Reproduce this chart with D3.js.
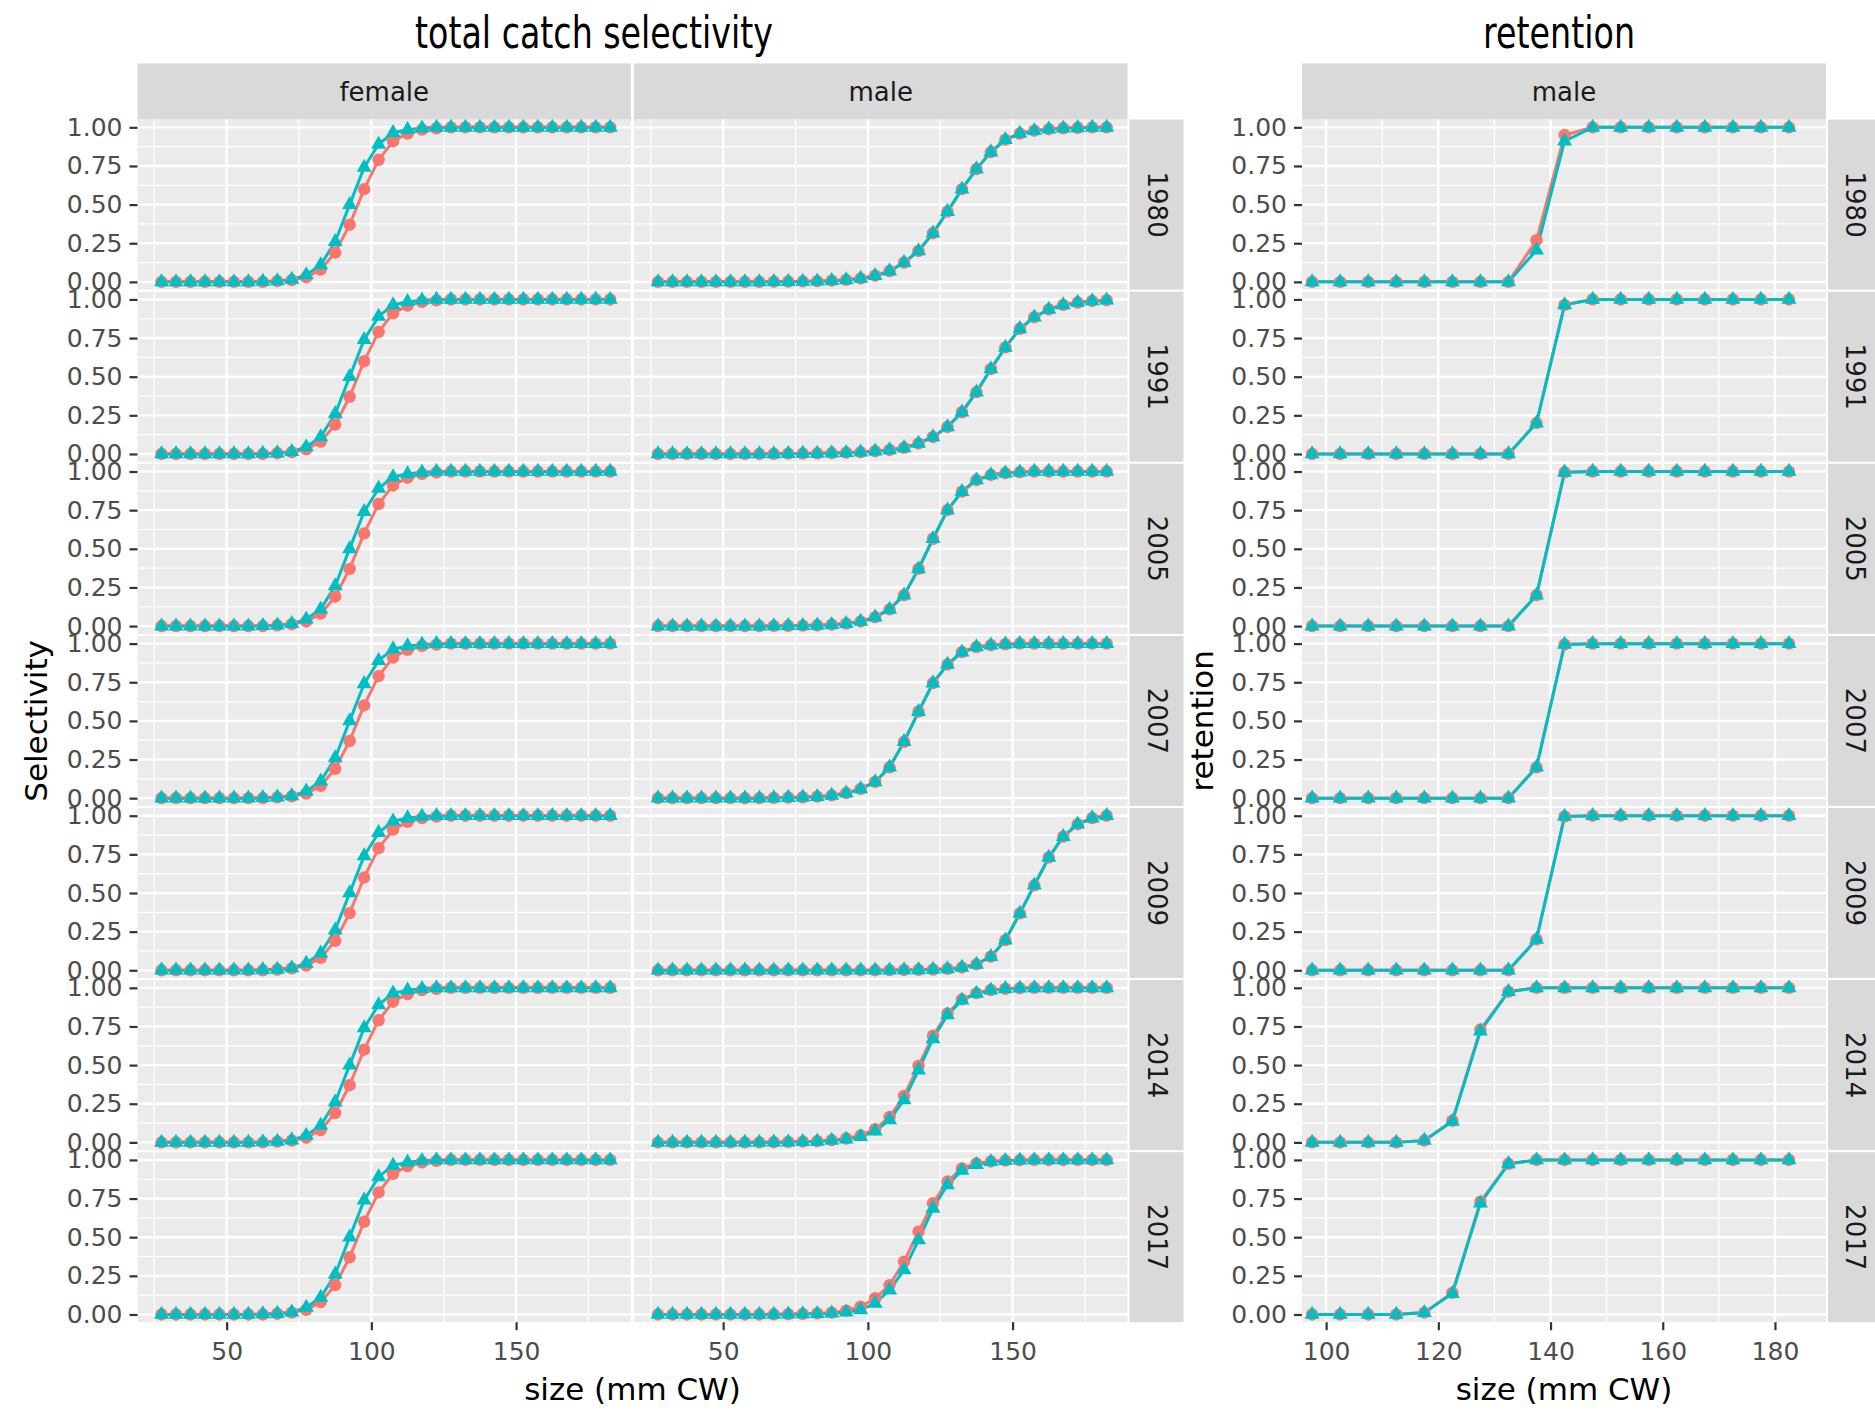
<!DOCTYPE html>
<html>
<head>
<meta charset="utf-8">
<script src="https://cdn.jsdelivr.net/npm/d3@7"></script>
<style>
  body { margin: 0; background: #fff; }
  svg { display: block; }
  text { font-family: "DejaVu Sans", sans-serif; }
</style>
</head>
<body>
<svg id="chart" width="1875" height="1410"></svg>
<script>
// ---- data ----
var years = ["1980", "1991", "2005", "2007", "2009", "2014", "2017"];
var sizes = [27.5, 32.5, 37.5, 42.5, 47.5, 52.5, 57.5, 62.5, 67.5, 72.5, 77.5, 82.5, 87.5, 92.5, 97.5, 102.5,
             107.5, 112.5, 117.5, 122.5, 127.5, 132.5, 137.5, 142.5, 147.5, 152.5, 157.5, 162.5, 167.5, 172.5, 177.5, 182.5];
var retSizes = [97.5, 102.5, 107.5, 112.5, 117.5, 122.5, 127.5, 132.5, 137.5, 142.5, 147.5, 152.5, 157.5, 162.5, 167.5, 172.5, 177.5, 182.5];
var yTicks = [0, 0.25, 0.5, 0.75, 1];
var selTicks = [50, 100, 150];
var retTicks = [100, 120, 140, 160, 180];

var femaleRed  = [0, 0, 0, 0, 0, 0, 0, 0, 0.005, 0.012, 0.03, 0.08, 0.19, 0.37, 0.60, 0.79, 0.91, 0.96, 0.985, 0.994,
                  1, 1, 1, 1, 1, 1, 1, 1, 1, 1, 1, 1];
var femaleCyan = [0, 0, 0, 0, 0, 0, 0, 0.003, 0.006, 0.015, 0.045, 0.11, 0.26, 0.50, 0.74, 0.89, 0.965, 0.985, 0.995,
                  1, 1, 1, 1, 1, 1, 1, 1, 1, 1, 1, 1, 1];

var male1980 = [0, 0, 0, 0, 0, 0, 0, 0, 0.001, 0.002, 0.003, 0.005, 0.008, 0.013, 0.022, 0.04, 0.07, 0.125,
                0.2, 0.315, 0.455, 0.6, 0.73, 0.84, 0.92, 0.96, 0.978, 0.988, 0.994, 0.997, 1, 1];
var male1991 = [0, 0, 0, 0, 0, 0, 0, 0, 0.001, 0.002, 0.003, 0.004, 0.006, 0.008, 0.012, 0.018, 0.026, 0.04,
                0.068, 0.11, 0.175, 0.27, 0.4, 0.55, 0.69, 0.81, 0.885, 0.935, 0.965, 0.98, 0.99, 0.995];
var male2005 = [0, 0, 0, 0, 0, 0, 0, 0, 0.001, 0.002, 0.003, 0.005, 0.009, 0.016, 0.03, 0.058, 0.108, 0.2,
                0.37, 0.565, 0.75, 0.87, 0.945, 0.978, 0.99, 0.996, 1, 1, 1, 1, 1, 1];
var male2007 = [0, 0, 0, 0, 0, 0, 0, 0, 0.002, 0.004, 0.006, 0.01, 0.018, 0.033, 0.06, 0.105, 0.2, 0.365,
                0.56, 0.745, 0.865, 0.945, 0.978, 0.99, 0.996, 1, 1, 1, 1, 1, 1, 1];
var male2009 = [0, 0, 0, 0, 0, 0, 0, 0, 0, 0, 0, 0, 0, 0, 0, 0, 0.001, 0.002, 0.003, 0.005, 0.009, 0.018, 0.038, 0.088,
                0.195, 0.368, 0.55, 0.73, 0.865, 0.945, 0.985, 1];
var male2014Cyan = [0, 0, 0, 0, 0, 0, 0, 0, 0.001, 0.002, 0.004, 0.007, 0.012, 0.02, 0.037, 0.073, 0.145, 0.274,
                    0.468, 0.67, 0.824, 0.92, 0.964, 0.985, 0.994, 0.998, 1, 1, 1, 1, 1, 1];
var male2014Red  = [0, 0, 0, 0, 0, 0, 0, 0, 0.001, 0.003, 0.005, 0.008, 0.014, 0.025, 0.045, 0.085, 0.165, 0.3,
                    0.495, 0.69, 0.835, 0.925, 0.966, 0.986, 0.994, 0.998, 1, 1, 1, 1, 1, 1];
var male2017Cyan = [0, 0, 0, 0, 0, 0, 0, 0, 0.001, 0.002, 0.003, 0.005, 0.008, 0.015, 0.03, 0.072, 0.158, 0.288,
                    0.482, 0.687, 0.838, 0.932, 0.97, 0.988, 0.995, 0.998, 1, 1, 1, 1, 1, 1];
var male2017Red  = [0, 0, 0, 0, 0, 0, 0, 0, 0.001, 0.002, 0.004, 0.007, 0.012, 0.025, 0.05, 0.105, 0.19, 0.342,
                    0.536, 0.72, 0.86, 0.945, 0.978, 0.99, 0.996, 0.999, 1, 1, 1, 1, 1, 1];
var maleRed  = [male1980, male1991, male2005, male2007, male2009, male2014Red, male2017Red];
var maleCyan = [male1980, male1991, male2005, male2007, male2009, male2014Cyan, male2017Cyan];

var ret1980Red  = [0, 0, 0, 0, 0, 0, 0, 0, 0.27, 0.95, 1, 1, 1, 1, 1, 1, 1, 1];
var ret1980Cyan = [0, 0, 0, 0, 0, 0, 0, 0, 0.205, 0.91, 1, 1, 1, 1, 1, 1, 1, 1];
var ret1991 = [0, 0, 0, 0, 0, 0, 0, 0, 0.2, 0.965, 1, 1, 1, 1, 1, 1, 1, 1];
var ret2005 = [0, 0, 0, 0, 0, 0, 0, 0, 0.2, 0.995, 1, 1, 1, 1, 1, 1, 1, 1];
var ret2014Red  = [0, 0, 0, 0, 0.012, 0.14, 0.73, 0.975, 1, 1, 1, 1, 1, 1, 1, 1, 1, 1];
var ret2014Cyan = [0, 0, 0, 0, 0.012, 0.135, 0.72, 0.975, 1, 1, 1, 1, 1, 1, 1, 1, 1, 1];
var retRed  = [ret1980Red, ret1991, ret2005, ret2005, ret2005, ret2014Red, ret2014Red];
var retCyan = [ret1980Cyan, ret1991, ret2005, ret2005, ret2005, ret2014Cyan, ret2014Cyan];

// ---- layout ----
var RED = "#F8766D", CYAN = "#00BFC4";
var svg = d3.select("#chart");
var rowTop0 = 119.6, rowPitch = 172.1, panelH = 170;
var stripTop = 63.4;
var femaleX = 137.5, maleX = 634, retX = 1302;
var selW = 493.5, retW = 524;

var y = d3.scaleLinear().domain([-0.05, 1.05]).range([panelH, 0]);
var xSel = d3.scaleLinear().domain([19.2, 189.7]).range([0, selW]);
var xRet = d3.scaleLinear().domain([95.7, 189.1]).range([0, retW]);
var yMinor = [0.125, 0.375, 0.625, 0.875];

function drawPanel(px, py, xs, xMajor, xMinor, bins, red, cyan) {
    var g = svg.append("g").attr("transform", "translate(" + px + "," + py + ")");
    var w = xs.range()[1];
    g.append("rect").attr("width", w).attr("height", panelH).attr("fill", "#EBEBEB");
    g.selectAll(".hmin").data(yMinor).enter().append("line")
        .attr("x1", 0).attr("x2", w).attr("y1", y).attr("y2", y)
        .attr("stroke", "#fff").attr("stroke-width", 1.2);
    g.selectAll(".vmin").data(xMinor).enter().append("line")
        .attr("y1", 0).attr("y2", panelH).attr("x1", xs).attr("x2", xs)
        .attr("stroke", "#fff").attr("stroke-width", 1.2);
    g.selectAll(".hmaj").data(yTicks).enter().append("line")
        .attr("x1", 0).attr("x2", w).attr("y1", y).attr("y2", y)
        .attr("stroke", "#fff").attr("stroke-width", 2.4);
    g.selectAll(".vmaj").data(xMajor).enter().append("line")
        .attr("y1", 0).attr("y2", panelH).attr("x1", xs).attr("x2", xs)
        .attr("stroke", "#fff").attr("stroke-width", 2.4);

    var line = d3.line().x(function(d) { return xs(d[0]); }).y(function(d) { return y(d[1]); });
    var redPts = d3.zip(bins, red), cyanPts = d3.zip(bins, cyan);
    g.append("path").datum(redPts).attr("d", line)
        .attr("fill", "none").attr("stroke", RED).attr("stroke-width", 3);
    g.append("path").datum(cyanPts).attr("d", line)
        .attr("fill", "none").attr("stroke", CYAN).attr("stroke-width", 3);
    g.selectAll(".pr").data(redPts).enter().append("circle")
        .attr("cx", function(d) { return xs(d[0]); })
        .attr("cy", function(d) { return y(d[1]); })
        .attr("r", 6.2).attr("fill", RED);
    var tri = d3.symbol().type(d3.symbolTriangle).size(98);
    g.selectAll(".pc").data(cyanPts).enter().append("path")
        .attr("d", tri)
        .attr("transform", function(d) { return "translate(" + xs(d[0]) + "," + y(d[1]) + ")"; })
        .attr("fill", CYAN);
}

function styleAxis(sel) {
    sel.select(".domain").remove();
    sel.selectAll(".tick line").attr("stroke", "#333").attr("stroke-width", 2.2);
    sel.selectAll(".tick text").attr("fill", "#4D4D4D").attr("font-size", 25)
        .attr("font-family", "DejaVu Sans, sans-serif");
}

function colStrip(x0, w, label) {
    svg.append("rect").attr("x", x0).attr("y", stripTop).attr("width", w)
        .attr("height", rowTop0 - stripTop).attr("fill", "#D9D9D9");
    svg.append("text").attr("x", x0 + w / 2).attr("y", (stripTop + rowTop0) / 2)
        .attr("text-anchor", "middle").attr("dominant-baseline", "central")
        .attr("font-size", 26).attr("fill", "#1A1A1A").text(label);
}

function rowStrip(x0, top, label) {
    svg.append("rect").attr("x", x0).attr("y", top).attr("width", 54)
        .attr("height", panelH).attr("fill", "#D9D9D9");
    svg.append("text")
        .attr("transform", "translate(" + (x0 + 27) + "," + (top + panelH / 2) + ") rotate(90)")
        .attr("text-anchor", "middle").attr("dominant-baseline", "central")
        .attr("font-size", 26).attr("fill", "#1A1A1A").text(label);
}

colStrip(femaleX, selW, "female");
colStrip(maleX, selW, "male");
colStrip(retX, retW, "male");

years.forEach(function(yr, i) {
    var top = rowTop0 + i * rowPitch;
    drawPanel(femaleX, top, xSel, selTicks, [25, 75, 125, 175], sizes, femaleRed, femaleCyan);
    drawPanel(maleX, top, xSel, selTicks, [25, 75, 125, 175], sizes, maleRed[i], maleCyan[i]);
    drawPanel(retX, top, xRet, retTicks, [110, 130, 150, 170], retSizes, retRed[i], retCyan[i]);
    rowStrip(maleX + selW + 2, top, yr);
    rowStrip(retX + retW + 2, top, yr);

    var yAxis = d3.axisLeft(y).tickValues(yTicks).tickFormat(d3.format(".2f")).tickSize(8).tickPadding(7);
    svg.append("g").attr("transform", "translate(" + femaleX + "," + top + ")").call(yAxis).call(styleAxis);
    svg.append("g").attr("transform", "translate(" + retX + "," + top + ")").call(yAxis).call(styleAxis);
});

var bottom = rowTop0 + 6 * rowPitch + panelH;
var xAxisSel = d3.axisBottom(xSel).tickValues(selTicks).tickSize(8).tickPadding(12);
var xAxisRet = d3.axisBottom(xRet).tickValues(retTicks).tickSize(8).tickPadding(12);
svg.append("g").attr("transform", "translate(" + femaleX + "," + bottom + ")").call(xAxisSel).call(styleAxis);
svg.append("g").attr("transform", "translate(" + maleX + "," + bottom + ")").call(xAxisSel).call(styleAxis);
svg.append("g").attr("transform", "translate(" + retX + "," + bottom + ")").call(xAxisRet).call(styleAxis);

// axis titles
svg.append("text").attr("x", (femaleX + maleX + selW) / 2).attr("y", 1400)
    .attr("text-anchor", "middle").attr("font-size", 31).attr("fill", "#000").text("size (mm CW)");
svg.append("text").attr("x", retX + retW / 2).attr("y", 1400)
    .attr("text-anchor", "middle").attr("font-size", 31).attr("fill", "#000").text("size (mm CW)");
var midY = (rowTop0 + bottom) / 2;
svg.append("text").attr("transform", "translate(36," + midY + ") rotate(-90)")
    .attr("text-anchor", "middle").attr("dominant-baseline", "central")
    .attr("font-size", 31).attr("fill", "#000").text("Selectivity");
svg.append("text").attr("transform", "translate(1202," + midY + ") rotate(-90)")
    .attr("text-anchor", "middle").attr("dominant-baseline", "central")
    .attr("font-size", 31).attr("fill", "#000").text("retention");

// plot titles (condensed face, squeezed to the reference width)
svg.append("text").attr("x", 594).attr("y", 48).attr("text-anchor", "middle")
    .attr("font-family", "Liberation Sans Narrow, Liberation Sans, sans-serif")
    .attr("textLength", 358).attr("lengthAdjust", "spacingAndGlyphs")
    .attr("font-size", 45).attr("fill", "#000").text("total catch selectivity");
svg.append("text").attr("x", 1559).attr("y", 48).attr("text-anchor", "middle")
    .attr("font-family", "Liberation Sans Narrow, Liberation Sans, sans-serif")
    .attr("textLength", 152).attr("lengthAdjust", "spacingAndGlyphs")
    .attr("font-size", 45).attr("fill", "#000").text("retention");
</script>
</body>
</html>
